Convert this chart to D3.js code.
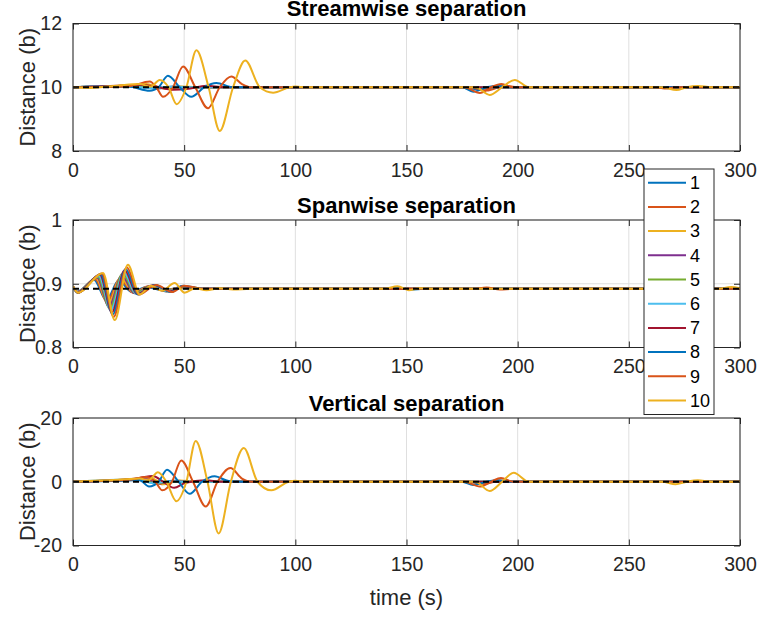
<!DOCTYPE html>
<html>
<head>
<meta charset="utf-8">
<script src="https://cdn.jsdelivr.net/npm/d3@7"></script>
<style>
  body { margin: 0; background: #fff; }
  svg { display: block; }
</style>
</head>
<body>
<div id="chart"></div>
<script>
// ---- data ----
const timeTicks = [0, 50, 100, 150, 200, 250, 300];
const seriesNames = ['1', '2', '3', '4', '5', '6', '7', '8', '9', '10'];
const panelTitles = ['Streamwise separation', 'Spanwise separation', 'Vertical separation'];
const yDomains = [[8, 12], [0.8, 1], [-20, 20]];
const yTicks = [[8, 10, 12], [0.8, 0.9, 1], [-20, 0, 20]];
const referenceLevels = [10, 0.892, 0];

// [time, distance] knots per particle pair
const streamwise = [
  [[0, 10], [20, 10.03], [30, 10.02], [38, 9.96], [45, 10.02], [55, 10], [175, 10], [182, 9.94], [190, 10], [300, 10]],
  [[0, 10], [25, 10.04], [35, 10.06], [42, 9.95], [50, 10.01], [60, 10], [178, 10], [186, 9.9], [194, 10.04], [200, 10], [300, 10]],
  [[0, 10], [25, 10.05], [33, 10.1], [40, 9.97], [48, 10.02], [60, 10], [300, 10]],
  [[0, 10], [20, 10.04], [30, 10.05], [38, 9.97], [46, 10.01], [55, 10], [300, 10]],
  [[0, 10], [15, 10.03], [28, 10.04], [36, 9.98], [44, 10], [300, 10]],
  [[0, 10], [15, 10.04], [26, 10.03], [34, 9.97], [42, 10.01], [50, 10], [300, 10]],
  [[0, 10], [20, 10.05], [30, 10.08], [37, 10.02], [45, 9.92], [52, 9.95], [60, 10.05], [68, 10], [300, 10]],
  [[0, 10], [25, 10.02], [34.5, 9.89], [38.5, 10], [42.7, 10.36], [48, 10], [53.2, 9.7], [59, 10], [64.5, 10.13], [72, 10],
    [175, 10], [180, 9.86], [186, 10], [191, 10.05], [196, 10], [300, 10]],
  [[0, 10], [25, 10.03], [34.5, 10.18], [37.5, 10], [40.5, 9.7], [45, 10], [49.5, 10.65], [55, 10], [60.7, 9.34], [66, 10],
    [71.2, 10.34], [76, 10.1], [80, 10], [176, 10], [183, 9.82], [188, 10], [192.7, 10.1], [198, 10], [262, 10], [266, 9.96], [272, 10], [300, 10]],
  [[0, 10], [8, 9.98], [20, 10.05], [30, 10.1], [35, 10.02], [39, 10.23], [43, 10], [46.6, 9.47], [51, 10], [55.5, 11.16],
    [61, 10], [66, 8.63], [72, 10], [77.5, 10.84], [84, 10], [90, 9.83], [97.5, 10], [100, 10.02], [105, 10],
    [181, 10], [187.4, 9.76], [193, 10], [198.7, 10.23], [205, 10], [265, 10], [271.4, 9.91], [276, 10], [281, 10.04], [287, 10], [300, 10]]
];

const spanwise = [
  [[0, 0.893], [2, 0.888], [9.5, 0.906], [15, 0.874], [20.5, 0.905], [26.5, 0.887], [33, 0.895], [40, 0.89], [47, 0.893], [55, 0.892], [300, 0.892]],
  [[0, 0.894], [2, 0.887], [10, 0.907], [15.4, 0.871], [21, 0.908], [27, 0.886], [34, 0.896], [41, 0.889], [48, 0.894], [56, 0.892], [300, 0.892]],
  [[0, 0.894], [2, 0.887], [10.4, 0.909], [15.8, 0.867], [21.4, 0.91], [27.3, 0.886], [34.5, 0.896], [41.5, 0.889], [48, 0.894], [56, 0.892], [300, 0.892]],
  [[0, 0.895], [2.1, 0.887], [10.8, 0.91], [16.2, 0.864], [21.9, 0.913], [27.6, 0.885], [35, 0.897], [42, 0.888], [48.5, 0.895], [57, 0.892], [300, 0.892]],
  [[0, 0.895], [2.1, 0.886], [11.2, 0.911], [16.6, 0.861], [22.3, 0.916], [28, 0.885], [35.5, 0.897], [42.5, 0.888], [48.5, 0.895], [57, 0.892], [300, 0.892]],
  [[0, 0.895], [2.2, 0.886], [11.7, 0.912], [17, 0.858], [22.8, 0.918], [28.4, 0.884], [36, 0.897], [43, 0.888], [49, 0.896], [58, 0.892], [300, 0.892]],
  [[0, 0.896], [2.2, 0.886], [12.1, 0.914], [17.5, 0.855], [23.2, 0.921], [28.8, 0.884], [36.5, 0.898], [43.5, 0.888], [49, 0.896], [58, 0.892], [300, 0.892]],
  [[0, 0.896], [2.3, 0.886], [12.5, 0.915], [17.9, 0.852], [23.7, 0.923], [29.2, 0.883], [37, 0.898], [44, 0.887], [49.5, 0.897], [59, 0.892],
    [140, 0.892], [146, 0.894], [152, 0.891], [158, 0.892], [300, 0.892]],
  [[0, 0.896], [2.3, 0.886], [13, 0.916], [18.3, 0.848], [24.2, 0.926], [29.6, 0.883], [37.5, 0.898], [44.5, 0.887], [50, 0.897], [59, 0.892],
    [180, 0.892], [186, 0.894], [192, 0.891], [198, 0.892], [300, 0.892]],
  [[0, 0.896], [2.3, 0.886], [13.5, 0.917], [18.8, 0.843], [24.7, 0.93], [30, 0.883], [35, 0.897], [40, 0.889], [45.7, 0.901], [50.2, 0.886],
    [55, 0.893], [60, 0.89], [66, 0.893], [72, 0.891], [80, 0.892], [140, 0.892], [146, 0.896], [151, 0.89], [156, 0.893], [162, 0.892],
    [290, 0.892], [296, 0.895], [300, 0.893]]
];

const vertical = [
  [[0, 0], [25, 0.5], [33, 0.8], [38, -0.6], [45, 0.3], [55, 0], [178, 0], [183, -0.5], [190, 0], [300, 0]],
  [[0, 0], [25, 0.6], [34, 1.0], [40, -0.8], [47, 0.3], [55, 0], [178, 0], [185, -0.7], [192, 0.4], [198, 0], [300, 0]],
  [[0, 0], [25, 0.7], [35, 1.2], [41, -0.8], [48, 0.4], [56, 0], [300, 0]],
  [[0, 0], [22, 0.5], [32, 0.9], [39, -0.5], [46, 0.2], [54, 0], [300, 0]],
  [[0, 0], [20, 0.5], [30, 0.8], [37, -0.4], [44, 0], [300, 0]],
  [[0, 0], [20, 0.6], [29, 0.7], [36, -0.5], [43, 0.1], [50, 0], [300, 0]],
  [[0, 0], [22, 0.6], [30, 1.2], [36, 1.8], [40, 0.3], [45.5, -1.9], [50, -0.5], [55, 0.2], [60, 0.5], [66, 0], [300, 0]],
  [[0, 0], [25, 0.5], [30, 0.5], [34.2, -1.5], [38.5, 0], [42.3, 3.8], [47.5, 0], [52.5, -3.8], [58, 0], [63.7, 1.7], [70, 0.2], [75, 0],
    [175, 0], [180, -1.0], [186, 0], [191, 0.5], [197, 0], [300, 0]],
  [[0, 0], [25, 0.6], [33, 1.5], [37, 0], [40.2, -2.7], [44.5, 0], [48.7, 6.7], [54, 0], [59.7, -7.8], [65, 0], [70.8, 4.3], [76, 1.0], [80, 0],
    [176, 0], [183, -1.5], [188, 0], [192.5, 1.2], [198, 0], [300, 0]],
  [[0, 0], [20, 0.6], [30, 1.0], [34, 0.5], [38.2, 3.0], [42, 0], [46.5, -6.1], [51, 0], [55.2, 12.8], [60.5, 0], [65.5, -16.2], [71, 0],
    [76.8, 10.6], [83, 0], [89.2, -2.7], [97, 0], [100, 0.3], [104, 0], [181, 0], [187.4, -2.9], [193, 0], [198.2, 2.8], [205, 0],
    [265, 0], [271, -0.8], [276, 0], [281, 0.5], [287, 0], [300, 0]]
];

const panelData = [streamwise, spanwise, vertical];

// ---- styling / layout ----
const colors = ['#0072BD', '#D95319', '#EDB120', '#7E2F8E', '#77AC30', '#4DBEEE', '#A2142F', '#0072BD', '#D95319', '#EDB120'];
const font = '"Liberation Sans", Arial, Helvetica, sans-serif';
const axisColor = '#262626';
const W = 759, H = 617;
const left = 73, right = 740;
const tops = [23.5, 220, 418];
const ph = 127.5;
const pw = right - left;

const svg = d3.select('#chart').append('svg')
    .attr('width', W)
    .attr('height', H)
    .attr('font-family', font);

svg.append('rect').attr('width', W).attr('height', H).attr('fill', '#fff');

const x = d3.scaleLinear().domain([0, 300]).range([0, pw]);

panelData.forEach((series, p) => {
  const y = d3.scaleLinear().domain(yDomains[p]).range([ph, 0]);
  const g = svg.append('g').attr('transform', `translate(${left},${tops[p]})`);

  // grid
  g.append('g').selectAll('line').data(timeTicks).join('line')
      .attr('x1', (d) => x(d)).attr('x2', (d) => x(d))
      .attr('y1', 0).attr('y2', ph)
      .attr('stroke', '#dfdfdf').attr('stroke-width', 1);
  g.append('g').selectAll('line').data(yTicks[p]).join('line')
      .attr('x1', 0).attr('x2', pw)
      .attr('y1', (d) => y(d)).attr('y2', (d) => y(d))
      .attr('stroke', '#dfdfdf').attr('stroke-width', 1);

  const clipId = 'clip' + p;
  g.append('clipPath').attr('id', clipId)
      .append('rect').attr('width', pw).attr('height', ph);

  const line = d3.line()
      .x((d) => x(d[0]))
      .y((d) => y(d[1]))
      .curve(d3.curveMonotoneX);

  const plot = g.append('g').attr('clip-path', `url(#${clipId})`);
  plot.selectAll('path.series').data(series).join('path')
      .attr('class', 'series')
      .attr('d', line)
      .attr('fill', 'none')
      .attr('stroke', (_d, i) => colors[i])
      .attr('stroke-width', 2)
      .attr('stroke-linejoin', 'round');

  plot.append('path')
      .attr('d', line([[0, referenceLevels[p]], [300, referenceLevels[p]]]))
      .attr('fill', 'none')
      .attr('stroke', '#000')
      .attr('stroke-width', 2)
      .attr('stroke-dasharray', '6,4');

  // axes
  const styleAxis = (sel) => {
    sel.attr('font-family', font).attr('font-size', 19.5).attr('color', axisColor);
    sel.select('.domain').remove();
  };
  g.append('g').attr('transform', `translate(0,${ph})`)
      .call(d3.axisBottom(x).tickValues(timeTicks).tickSize(-6).tickPadding(12))
      .call(styleAxis);
  g.append('g')
      .call(d3.axisTop(x).tickValues(timeTicks).tickSize(-6).tickFormat(''))
      .call(styleAxis);
  g.append('g')
      .call(d3.axisLeft(y).tickValues(yTicks[p]).tickSize(-6).tickPadding(11).tickFormat((d) => String(d)))
      .call(styleAxis);
  g.append('g').attr('transform', `translate(${pw},0)`)
      .call(d3.axisRight(y).tickValues(yTicks[p]).tickSize(-6).tickFormat(''))
      .call(styleAxis);

  g.append('rect')
      .attr('width', pw).attr('height', ph)
      .attr('fill', 'none')
      .attr('stroke', axisColor)
      .attr('stroke-width', 1);

  g.append('text')
      .attr('x', pw / 2).attr('y', -7.5)
      .attr('text-anchor', 'middle')
      .attr('font-size', 22).attr('font-weight', 'bold')
      .attr('fill', '#000')
      .text(panelTitles[p]);

  svg.append('text')
      .attr('transform', `translate(27,${tops[p] + ph / 2}) rotate(-90)`)
      .attr('text-anchor', 'middle')
      .attr('dy', '0.35em')
      .attr('font-size', 22)
      .attr('fill', axisColor)
      .text('Distance (b)');
});

svg.append('text')
    .attr('x', (left + right) / 2).attr('y', 605)
    .attr('text-anchor', 'middle')
    .attr('font-size', 22)
    .attr('fill', axisColor)
    .text('time (s)');

// legend
const legend = svg.append('g').attr('transform', 'translate(644,169)');
legend.append('rect')
    .attr('width', 70).attr('height', 245.5)
    .attr('fill', '#fff')
    .attr('stroke', axisColor)
    .attr('stroke-width', 1);
const rows = legend.selectAll('g.row').data(seriesNames).join('g')
    .attr('class', 'row')
    .attr('transform', (_d, i) => `translate(0,${13.7 + i * 24.2})`);
rows.append('line')
    .attr('x1', 4).attr('x2', 42)
    .attr('stroke', (_d, i) => colors[i])
    .attr('stroke-width', 2);
rows.append('text')
    .attr('x', 46).attr('dy', '0.35em')
    .attr('font-size', 18)
    .attr('fill', '#000')
    .text((d) => d);
</script>
</body>
</html>
